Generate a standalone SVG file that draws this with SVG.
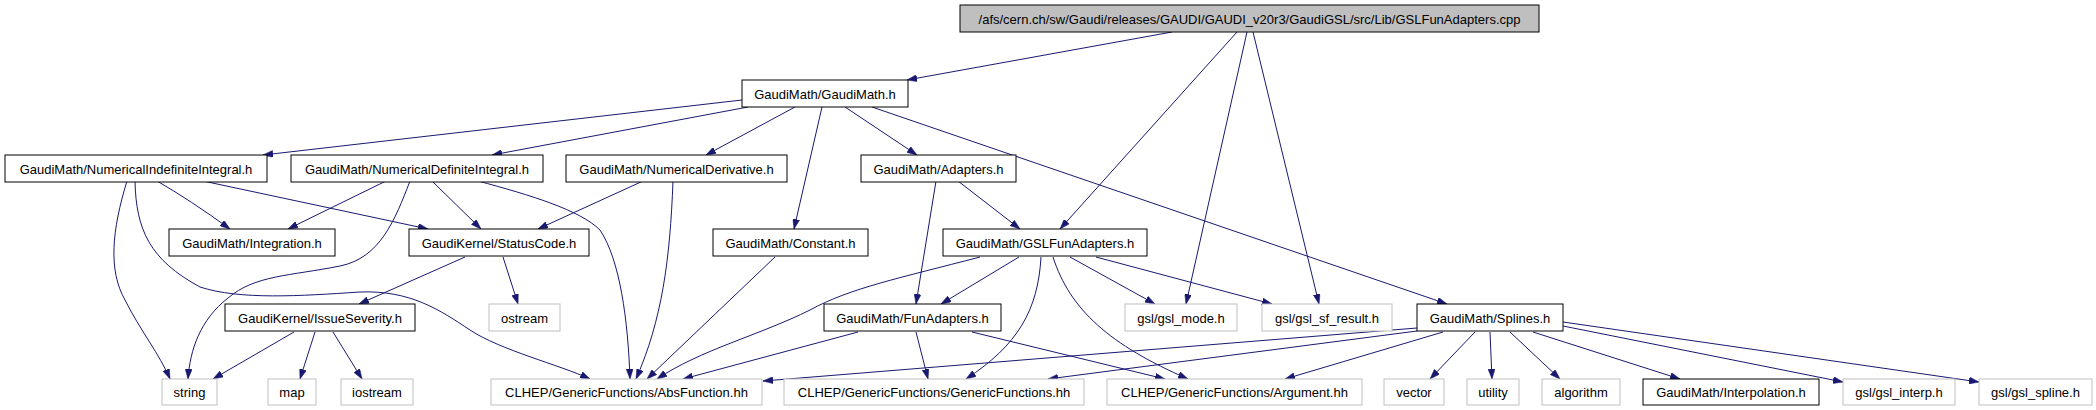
<svg xmlns="http://www.w3.org/2000/svg" width="2096" height="410" viewBox="0 0 2096 410">
<style>
text{font-family:"Liberation Sans",Arial,sans-serif;font-size:13px;fill:#000;text-anchor:middle}
.b rect{fill:#fff;stroke:#000;stroke-width:1}
.g rect{fill:#fff;stroke:#bfbfbf;stroke-width:1}
.r rect{fill:#bfbfbf;stroke:#000;stroke-width:1}
#edges path{fill:none;stroke:#191970;stroke-width:1;marker-end:url(#ah)}
</style>
<defs>
<marker id="ah" viewBox="0 0 10 7" refX="10" refY="3.5" markerWidth="10" markerHeight="7" markerUnits="userSpaceOnUse" orient="auto">
<path d="M0,0 L10,3.5 L0,7 z" fill="#191970" stroke="#191970" stroke-width="0.5"/>
</marker>
</defs>
<rect width="2096" height="410" fill="#fff"/>
<g id="edges">
<path d="M1172,32 L907,80"/>
<path d="M1237,32 L1060,229"/>
<path d="M1247,32 L1186,304"/>
<path d="M1253,32 L1319,304"/>
<path d="M742,100 L263,155"/>
<path d="M748,107 L492,155"/>
<path d="M795,107 L706,155"/>
<path d="M845,107 L917,155"/>
<path d="M822,107 L794,229"/>
<path d="M872,107 L1447,304"/>
<path d="M127,181 C112,230 108,270 125,300 C140,330 160,355 170,379"/>
<path d="M135,181 C136,230 150,260 200,287 C240,300 300,296 360,292 C410,290 440,310 470,330 C500,350 560,365 590,379"/>
<path d="M157,181 Q190,200 230,229"/>
<path d="M203,181 L428,229"/>
<path d="M386,181 L288,229"/>
<path d="M410,181 C395,220 380,258 340,266 C290,276 255,275 228,298 C200,320 190,350 188,379"/>
<path d="M432,181 L481,229"/>
<path d="M478,181 C530,195 580,210 600,230 C620,260 628,320 630,379"/>
<path d="M643,181 L538,229"/>
<path d="M673,181 C670,260 662,320 636,379"/>
<path d="M936,181 L916,304"/>
<path d="M958,181 L1020,229"/>
<path d="M775,257 L647,379"/>
<path d="M465,257 L359,304"/>
<path d="M503,257 L518,304"/>
<path d="M294,332 L213,379"/>
<path d="M315,332 L300,379"/>
<path d="M333,332 L362,379"/>
<path d="M980,257 C900,278 850,288 810,310 C760,335 700,350 657,379"/>
<path d="M1019,257 L941,304"/>
<path d="M1041,257 C1038,310 1018,345 966,379"/>
<path d="M1053,257 C1070,310 1110,345 1188,379"/>
<path d="M1070,257 L1155,304"/>
<path d="M1096,257 L1272,304"/>
<path d="M858,332 L683,379"/>
<path d="M916,332 L928,379"/>
<path d="M972,332 L1165,379"/>
<path d="M1417,328 L763,381"/>
<path d="M1417,331 L1048,379"/>
<path d="M1443,332 L1285,379"/>
<path d="M1475,332 L1430,379"/>
<path d="M1490,332 L1492,379"/>
<path d="M1510,332 L1560,379"/>
<path d="M1533,332 L1680,379"/>
<path d="M1563,326 L1843,382"/>
<path d="M1563,322 L1979,382"/>
</g>
<g id="root" class="r"><rect x="960" y="5" width="579" height="27"/><text x="1249.5" y="23.5">/afs/cern.ch/sw/Gaudi/releases/GAUDI/GAUDI_v20r3/GaudiGSL/src/Lib/GSLFunAdapters.cpp</text></g>
<g id="gaudimath" class="b"><rect x="742" y="80" width="166" height="27"/><text x="825" y="98.5">GaudiMath/GaudiMath.h</text></g>
<g id="numindef" class="b"><rect x="5" y="155" width="262" height="27"/><text x="136" y="173.5">GaudiMath/NumericalIndefiniteIntegral.h</text></g>
<g id="numdef" class="b"><rect x="291" y="155" width="252" height="27"/><text x="417" y="173.5">GaudiMath/NumericalDefiniteIntegral.h</text></g>
<g id="numderiv" class="b"><rect x="566" y="155" width="221" height="27"/><text x="676.5" y="173.5">GaudiMath/NumericalDerivative.h</text></g>
<g id="adapters" class="b"><rect x="861" y="155" width="155" height="27"/><text x="938.5" y="173.5">GaudiMath/Adapters.h</text></g>
<g id="integration" class="b"><rect x="169" y="229" width="166" height="27"/><text x="252" y="247.5">GaudiMath/Integration.h</text></g>
<g id="statuscode" class="b"><rect x="409" y="229" width="180" height="27"/><text x="499" y="247.5">GaudiKernel/StatusCode.h</text></g>
<g id="constant" class="b"><rect x="713" y="229" width="155" height="27"/><text x="790.5" y="247.5">GaudiMath/Constant.h</text></g>
<g id="gslfunadapters" class="b"><rect x="943" y="229" width="204" height="27"/><text x="1045" y="247.5">GaudiMath/GSLFunAdapters.h</text></g>
<g id="issueseverity" class="b"><rect x="225" y="304" width="190" height="27"/><text x="320" y="322.5">GaudiKernel/IssueSeverity.h</text></g>
<g id="ostream" class="g"><rect x="489" y="304" width="71" height="27"/><text x="524.5" y="322.5">ostream</text></g>
<g id="funadapters" class="b"><rect x="824" y="304" width="177" height="27"/><text x="912.5" y="322.5">GaudiMath/FunAdapters.h</text></g>
<g id="gslmode" class="g"><rect x="1125" y="304" width="112" height="27"/><text x="1181" y="322.5">gsl/gsl_mode.h</text></g>
<g id="gslsfresult" class="g"><rect x="1262" y="304" width="130" height="27"/><text x="1327" y="322.5">gsl/gsl_sf_result.h</text></g>
<g id="splines" class="b"><rect x="1417" y="304" width="146" height="27"/><text x="1490" y="322.5">GaudiMath/Splines.h</text></g>
<g id="string" class="g"><rect x="162" y="379" width="55" height="26"/><text x="189.5" y="397">string</text></g>
<g id="map" class="g"><rect x="268" y="379" width="48" height="26"/><text x="292" y="397">map</text></g>
<g id="iostream" class="g"><rect x="341" y="379" width="72" height="26"/><text x="377" y="397">iostream</text></g>
<g id="absfunction" class="g"><rect x="491" y="379" width="271" height="26"/><text x="626.5" y="397">CLHEP/GenericFunctions/AbsFunction.hh</text></g>
<g id="genericfunctions" class="g"><rect x="784" y="379" width="300" height="26"/><text x="934" y="397">CLHEP/GenericFunctions/GenericFunctions.hh</text></g>
<g id="argument" class="g"><rect x="1107" y="379" width="255" height="26"/><text x="1234.5" y="397">CLHEP/GenericFunctions/Argument.hh</text></g>
<g id="vector" class="g"><rect x="1384" y="379" width="60" height="26"/><text x="1414" y="397">vector</text></g>
<g id="utility" class="g"><rect x="1467" y="379" width="52" height="26"/><text x="1493" y="397">utility</text></g>
<g id="algorithm" class="g"><rect x="1542" y="379" width="78" height="26"/><text x="1581" y="397">algorithm</text></g>
<g id="interpolation" class="b"><rect x="1643" y="379" width="176" height="26"/><text x="1731" y="397">GaudiMath/Interpolation.h</text></g>
<g id="gslinterp" class="g"><rect x="1843" y="379" width="112" height="26"/><text x="1899" y="397">gsl/gsl_interp.h</text></g>
<g id="gslspline" class="g"><rect x="1979" y="379" width="113" height="26"/><text x="2035.5" y="397">gsl/gsl_spline.h</text></g>
</svg>
